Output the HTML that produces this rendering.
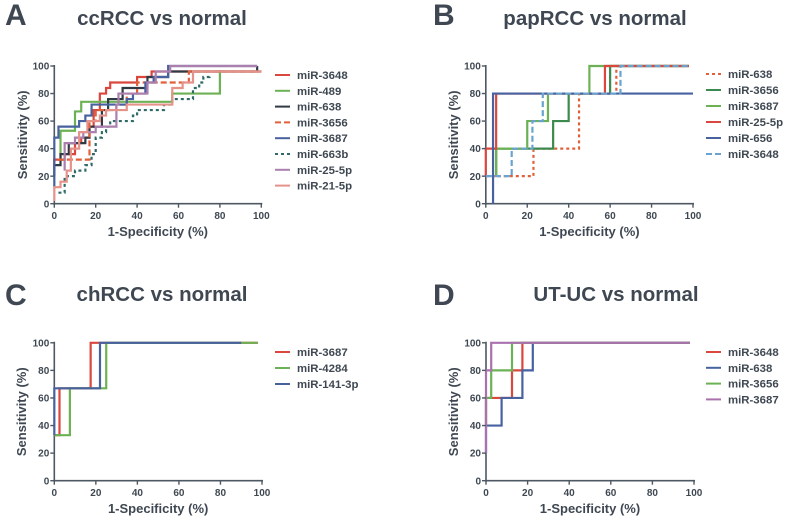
<!DOCTYPE html>
<html>
<head>
<meta charset="utf-8">
<style>
html,body{margin:0;padding:0;background:#fff;width:787px;height:521px;overflow:hidden}
svg{display:block;filter:blur(0.35px)}
text{font-family:"Liberation Sans",sans-serif;font-weight:bold;fill:#3f4852}
</style>
</head>
<body>
<svg id="chart" width="787" height="521" viewBox="0 0 787 521" xmlns="http://www.w3.org/2000/svg"></svg>
<script>
// Tick labels
const xTicks = [0, 20, 40, 60, 80, 100];
const yTicks = [0, 20, 40, 60, 80, 100];

// Panel A: ccRCC vs normal
const a3648Fpr = [0, 0, 5, 10, 13, 17, 19, 22, 25, 27, 40, 47, 100];
const a3648Tpr = [28, 32, 36, 44, 48, 56, 68, 80, 84, 88, 92, 96, 96];
const a489Fpr = [3, 3, 10, 13, 57, 80, 80];
const a489Tpr = [32, 53, 67, 74, 80, 97, 97];
const a638Fpr = [0, 0, 3, 7, 15, 17, 23, 26, 33, 45, 55, 98, 98];
const a638Tpr = [20, 28, 36, 44, 48, 56, 68, 76, 84, 92, 96, 100, 100];
const a3656Fpr = [0, 0, 17, 20, 30, 35, 40, 65, 100];
const a3656Tpr = [28, 32, 60, 68, 72, 80, 88, 96, 96];
const a3687Fpr = [0, 0, 2, 12, 15, 18, 35, 38, 44, 48, 55, 98];
const a3687Tpr = [12, 48, 56, 60, 64, 72, 76, 80, 88, 92, 100, 100];
const a663bFpr = [2, 5, 10, 15, 18, 20, 23, 25, 27, 38, 40, 53, 57, 67, 70, 72, 75];
const a663bTpr = [8, 20, 24, 28, 36, 48, 52, 56, 60, 64, 68, 72, 76, 84, 88, 92, 93];
const a255pFpr = [5, 5, 10, 14, 20, 30, 31, 45, 49, 56, 98];
const a255pTpr = [24, 44, 48, 52, 56, 72, 80, 88, 96, 100, 100];
const a215pFpr = [0, 0, 3, 6, 8, 12, 16, 22, 25, 35, 57, 62, 67, 100];
const a215pTpr = [2, 12, 16, 24, 40, 52, 60, 64, 68, 72, 84, 88, 96, 96];

// Panel B: papRCC vs normal
const b638Fpr = [0, 23, 45, 63, 98];
const b638Tpr = [20, 40, 80, 100, 100];
const b3656Fpr = [5, 5, 32.5, 40, 60, 98];
const b3656Tpr = [20, 40, 60, 80, 100, 100];
const b3687Fpr = [5, 5, 20, 30, 50, 98];
const b3687Tpr = [20, 40, 60, 80, 100, 100];
const b255pFpr = [0, 0, 5, 57.5, 98];
const b255pTpr = [20, 40, 80, 100, 100];
const b656Fpr = [3.5, 3.5, 100];
const b656Tpr = [0, 80, 80];
const b3648Fpr = [0, 12.5, 22.5, 27.5, 65, 98];
const b3648Tpr = [20, 40, 60, 80, 100, 100];

// Panel C: chRCC vs normal
const c3687Fpr = [0, 2.5, 17.5, 98];
const c3687Tpr = [33, 67, 100, 100];
const c4284Fpr = [0, 7.5, 25, 98];
const c4284Tpr = [33, 67, 100, 100];
const c1413pFpr = [0, 0, 22, 90];
const c1413pTpr = [33, 67, 100, 100];

// Panel D: UT-UC vs normal
const d3648Fpr = [0, 0, 7, 12.5, 17.5, 98];
const d3648Tpr = [40, 60, 60, 80, 100, 100];
const d638Fpr = [0, 0, 7.5, 17.5, 22.5, 98];
const d638Tpr = [20, 40, 60, 80, 100, 100];
const d3656Fpr = [0, 0, 2.5, 12.5, 98];
const d3656Tpr = [40, 60, 80, 100, 100];
const d3687Fpr = [0, 0, 2.5, 98];
const d3687Tpr = [20, 80, 100, 100];

const RED = '#d9473f', GREEN = '#6cb254', BLACK = '#2f3a44', ORANGE = '#e0603a', BLUE = '#47629f',
      TEAL = '#2f6a68', PURPLE = '#ab7fae', SALMON = '#e5938a', DGREEN = '#3d8a4f', LBLUE = '#6aa3cf', VIOLET = '#a971ae';

const panels = [
  {key:'a', letter:'A', lx:5, ly:25, title:'ccRCC vs normal', tx:162, ty:25, x0:54.3, x1:261.3, y0:203.7, y1:66,
   ytx:27, xty:236, legX:275, legY:75, legStep:15.8,
   series:[
    ['miR-3648',a3648Fpr,a3648Tpr,RED,''],
    ['miR-489',a489Fpr,a489Tpr,GREEN,''],
    ['miR-638',a638Fpr,a638Tpr,BLACK,''],
    ['miR-3656',a3656Fpr,a3656Tpr,ORANGE,'6 3'],
    ['miR-3687',a3687Fpr,a3687Tpr,BLUE,''],
    ['miR-663b',a663bFpr,a663bTpr,TEAL,'3 3'],
    ['miR-25-5p',a255pFpr,a255pTpr,PURPLE,''],
    ['miR-21-5p',a215pFpr,a215pTpr,SALMON,'']]},
  {key:'b', letter:'B', lx:433, ly:25, title:'papRCC vs normal', tx:595, ty:25, x0:485.8, x1:693, y0:203.7, y1:66,
   ytx:458, xty:236, legX:706, legY:74, legStep:16,
   series:[
    ['miR-638',b638Fpr,b638Tpr,ORANGE,'3 3'],
    ['miR-3656',b3656Fpr,b3656Tpr,DGREEN,''],
    ['miR-3687',b3687Fpr,b3687Tpr,GREEN,''],
    ['miR-25-5p',b255pFpr,b255pTpr,RED,''],
    ['miR-656',b656Fpr,b656Tpr,BLUE,''],
    ['miR-3648',b3648Fpr,b3648Tpr,LBLUE,'6 3']]},
  {key:'c', letter:'C', lx:5, ly:305, title:'chRCC vs normal', tx:162, ty:301, x0:54.3, x1:262, y0:480.7, y1:342.8,
   ytx:26, xty:513, legX:275, legY:352, legStep:16,
   series:[
    ['miR-3687',c3687Fpr,c3687Tpr,RED,''],
    ['miR-4284',c4284Fpr,c4284Tpr,GREEN,''],
    ['miR-141-3p',c1413pFpr,c1413pTpr,BLUE,'']]},
  {key:'d', letter:'D', lx:433, ly:305, title:'UT-UC vs normal', tx:616, ty:301, x0:486, x1:694, y0:480.7, y1:342.8,
   ytx:458, xty:513, legX:706, legY:352, legStep:15.8,
   series:[
    ['miR-3648',d3648Fpr,d3648Tpr,RED,''],
    ['miR-638',d638Fpr,d638Tpr,BLUE,''],
    ['miR-3656',d3656Fpr,d3656Tpr,GREEN,''],
    ['miR-3687',d3687Fpr,d3687Tpr,VIOLET,'']]}
];

const NS = 'http://www.w3.org/2000/svg';
const root = document.getElementById('chart');
const AXIS = '#4d5863';

function make(parent, tag, attrs, content) {
  const el = document.createElementNS(NS, tag);
  for (const k in attrs) el.setAttribute(k, attrs[k]);
  if (content !== undefined) el.textContent = content;
  parent.appendChild(el);
  return el;
}

panels.forEach(function (p) {
  const sx = function (v) { return p.x0 + (p.x1 - p.x0) * v / 100; };
  const sy = function (v) { return p.y0 + (p.y1 - p.y0) * v / 100; };

  const g = make(root, 'g', {});
  
  

  const letter = make(g, 'text', {x:p.lx, y:p.ly, 'font-size':30}, p.letter);
  
  

  const title = make(g, 'text', {x:p.tx, y:p.ty, 'font-size':20.5, 'text-anchor':'middle'}, p.title);
  
  

  // axes
  const yAxis = make(g, 'line', {x1:p.x0, x2:p.x0, y1:p.y0 + 1, y2:p.y1 - 1, stroke:AXIS, 'stroke-width':1.6});
  
  
  const xAxis = make(g, 'line', {x1:p.x0 - 1, x2:p.x1 + 1, y1:p.y0, y2:p.y0, stroke:AXIS, 'stroke-width':1.6});
  
  

  // series
  p.series.forEach(function (s) {
    const xs = s[1], ys = s[2];
    let d = 'M' + sx(xs[0]).toFixed(2) + ' ' + sy(ys[0]).toFixed(2);
    for (let i = 1; i < xs.length; i++) {
      d += 'H' + sx(xs[i]).toFixed(2) + 'V' + sy(ys[i]).toFixed(2);
    }
    const attrs = {d:d, fill:'none', stroke:s[3], 'stroke-width':2.2};
    if (s[4]) attrs['stroke-dasharray'] = s[4];
    const line = make(g, 'path', attrs);
    
    
  });

  xTicks.forEach(function (t) {
    const tick = make(g, 'line', {x1:sx(t), x2:sx(t), y1:p.y0, y2:p.y0 + 4, stroke:AXIS, 'stroke-width':1.4});
    
    
    const label = make(g, 'text', {x:sx(t), y:p.y0 + 15.3, 'font-size':10, 'text-anchor':'middle'}, String(t));
    
    
  });
  yTicks.forEach(function (t) {
    const tick = make(g, 'line', {x1:p.x0 - 4, x2:p.x0, y1:sy(t), y2:sy(t), stroke:AXIS, 'stroke-width':1.4});
    
    
    const label = make(g, 'text', {x:p.x0 - 5, y:sy(t) + 3.6, 'font-size':10, 'text-anchor':'end'}, String(t));
    
    
  });

  const xc = (p.x0 + p.x1) / 2;
  const xTitle = make(g, 'text', {x:xc, y:p.xty, 'font-size':13, 'text-anchor':'middle'}, '1-Specificity (%)');
  
  
  const yc = (p.y0 + p.y1) / 2;
  const yTitle = make(g, 'text', {x:p.ytx, y:yc, 'font-size':13, 'text-anchor':'middle', transform:'rotate(-90 ' + p.ytx + ' ' + yc + ')'}, 'Sensitivity (%)');
  
  

  // legend
  p.series.forEach(function (s, i) {
    const y = p.legY + i * p.legStep;
    const attrs = {x1:p.legX, x2:p.legX + 15, y1:y, y2:y, stroke:s[3], 'stroke-width':2};
    if (s[4]) attrs['stroke-dasharray'] = s[4];
    const swatch = make(g, 'line', attrs);
    
    
    const label = make(g, 'text', {x:p.legX + 22, y:y + 4, 'font-size':11.4}, s[0]);
    
    
  });
});
</script>
</body>
</html>
